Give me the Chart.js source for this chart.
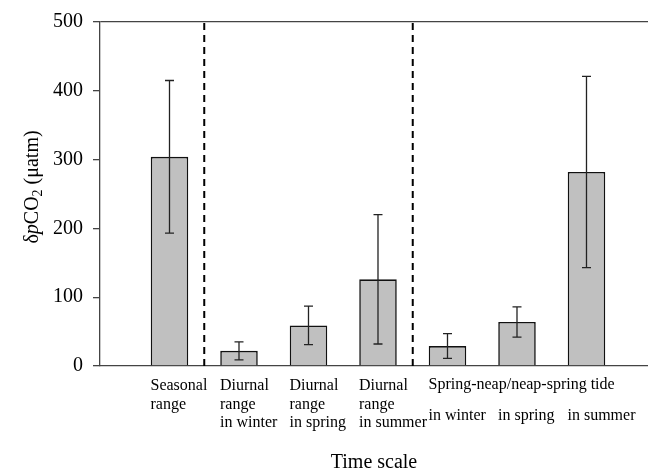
<!DOCTYPE html>
<html>
<head>
<meta charset="utf-8">
<script src="https://cdn.jsdelivr.net/npm/chart.js@4.4.1/dist/chart.umd.min.js"></script>
<style>
html,body{margin:0;padding:0;background:#fff;overflow:hidden}
#wrap{width:648px;height:476px}
</style>
</head>
<body>
<div id="wrap"><canvas id="c" width="648" height="476"></canvas></div>
<script>
// ---- data ----
const categories = ['Seasonal range', 'Diurnal range in winter', 'Diurnal range in spring', 'Diurnal range in summer',
  'Spring-neap/neap-spring tide in winter', 'Spring-neap/neap-spring tide in spring', 'Spring-neap/neap-spring tide in summer'];
const positions = [1, 2, 3, 4, 5, 6, 7];
const values = [304, 22, 59, 126, 29, 64, 282];
const errors = [111, 13, 28, 94, 18, 22, 139];
const tickLabels = [
  ['Seasonal', 'range'],
  ['Diurnal', 'range', 'in winter'],
  ['Diurnal', 'range', 'in spring'],
  ['Diurnal', 'range', 'in summer'],
  ['Spring-neap/neap-spring tide', '', 'in winter'],
  ['', '', 'in spring'],
  ['', '', 'in summer']
];
const separators = [1.5, 4.5];
const yTicks = [0, 100, 200, 300, 400, 500];
const xTitle = 'Time scale';
const yTitleParts = [['δ', ''], ['p', 'italic'], ['CO', ''], ['2', 'sub'], [' (μatm)', '']];

const FONT = 'Liberation Serif';

const errorBars = {
  id: 'errorBars',
  afterDatasetsDraw(chart) {
    const {ctx, scales: {x, y}} = chart;
    ctx.save();
    ctx.strokeStyle = '#222';
    ctx.lineWidth = 1.3;
    positions.forEach((p, i) => {
      const px = x.getPixelForValue(p);
      const top = y.getPixelForValue(values[i] + errors[i]);
      const bot = y.getPixelForValue(values[i] - errors[i]);
      ctx.beginPath();
      ctx.moveTo(px, top); ctx.lineTo(px, bot);
      ctx.moveTo(px - 4.5, top); ctx.lineTo(px + 4.5, top);
      ctx.moveTo(px - 4.5, bot); ctx.lineTo(px + 4.5, bot);
      ctx.stroke();
    });
    ctx.restore();
  }
};

const yTitle = {
  id: 'yTitle',
  afterDraw(chart) {
    const ctx = chart.ctx;
    const size = 20;
    const fontFor = (style) => style === 'italic' ? `italic ${size}px "${FONT}"` :
      style === 'sub' ? `${Math.round(size * 0.68)}px "${FONT}"` : `${size}px "${FONT}"`;
    ctx.save();
    let total = 0;
    yTitleParts.forEach(([t, s]) => { ctx.font = fontFor(s); total += ctx.measureText(t).width; });
    ctx.translate(31, 187);
    ctx.rotate(-Math.PI / 2);
    ctx.fillStyle = '#000';
    ctx.textBaseline = 'alphabetic';
    let xx = -total / 2;
    yTitleParts.forEach(([t, s]) => {
      ctx.font = fontFor(s);
      ctx.fillText(t, xx, s === 'sub' ? 11 : 7);
      xx += ctx.measureText(t).width;
    });
    ctx.restore();
  }
};

new Chart(document.getElementById('c'), {
  type: 'bar',
  data: {
    datasets: [
      {
        type: 'bar',
        label: 'δpCO2',
        data: positions.map((p, i) => ({x: p, y: values[i]})),
        backgroundColor: '#c0c0c0',
        borderColor: '#111',
        borderWidth: 1.6,
        barPercentage: 0.54,
        categoryPercentage: 1,
        order: 2
      },
      ...separators.map(s => ({
        type: 'line',
        data: [{x: s, y: 0}, {x: s, y: 500}],
        borderColor: '#000',
        borderWidth: 2,
        borderDash: [7, 5],
        pointRadius: 0,
        fill: false,
        order: 1
      }))
    ]
  },
  options: {
    responsive: false,
    animation: false,
    layout: {padding: {top: 22, right: 0, bottom: 0, left: 0}},
    plugins: {legend: {display: false}, tooltip: {enabled: false}},
    scales: {
      x: {
        type: 'linear',
        min: 0,
        max: 7.885,
        offset: false,
        afterBuildTicks: s => { s.ticks = positions.map(v => ({value: v})); },
        afterFit: s => { s.height = 110; s.paddingLeft = 0; s.paddingRight = 0; },
        grid: {display: false, drawTicks: false},
        border: {display: true, color: '#444', width: 1.3},
        ticks: {
          autoSkip: false, maxRotation: 0, minRotation: 0,
          align: 'start', labelOffset: -19, padding: 11, color: '#000',
          callback: (v) => tickLabels[positions.indexOf(v)] || '',
          font: (ctx) => ({family: FONT, size: 16, lineHeight: (ctx.index !== undefined && ctx.index >= 4) ? 0.96 : 1.15})
        },
        title: {display: true, text: xTitle, color: '#000', font: {family: FONT, size: 20}, padding: {top: 0, bottom: 1}}
      },
      y: {
        min: 0,
        max: 500,
        afterBuildTicks: s => { s.ticks = yTicks.map(v => ({value: v})); },
        afterFit: s => { s.width = 100; s.paddingTop = 0; s.paddingBottom = 0; },
        grid: {
          color: (c) => (c.tick && c.tick.value === 500) ? '#444' : 'rgba(0,0,0,0)',
          tickColor: '#444', tickLength: 7, lineWidth: 1.3, drawTicks: true
        },
        border: {display: true, color: '#444', width: 1.3},
        ticks: {padding: 10, color: '#000', font: {family: FONT, size: 20}}
      }
    }
  },
  plugins: [errorBars, yTitle]
});
</script>
</body>
</html>
